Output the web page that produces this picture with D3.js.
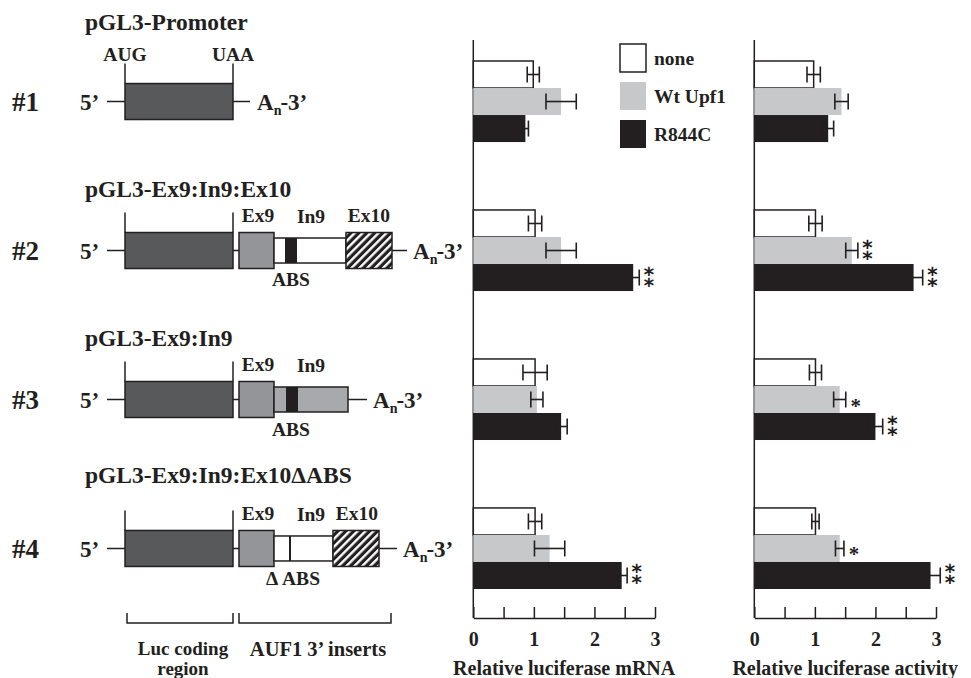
<!DOCTYPE html>
<html>
<head>
<meta charset="utf-8">
<script src="https://cdn.jsdelivr.net/npm/d3@7"></script>
<style>
  body { margin: 0; background: #fff; }
  svg text { font-family: "Liberation Serif", "Times New Roman", serif; font-weight: bold; fill: #231f20; }
</style>
</head>
<body>
<svg id="fig" width="971" height="678"></svg>
<script>
// rows (constructs) and treatment series
var rows = ["#1", "#2", "#3", "#4"];
var titles = ["pGL3-Promoter", "pGL3-Ex9:In9:Ex10", "pGL3-Ex9:In9", "pGL3-Ex9:In9:Ex10\u0394ABS"];
var series = ["none", "Wt Upf1", "R844C"];
var tickVals = [0, 0.5, 1, 1.5, 2, 2.5, 3];

// relative luciferase mRNA, one array per series (rows #1..#4)
var mrnaNone = [0.99, 1.02, 1.02, 1.02];
var mrnaWt = [1.45, 1.45, 1.05, 1.26];
var mrnaR844C = [0.86, 2.64, 1.45, 2.45];
var mrnaNoneErr = [0.1, 0.11, 0.2, 0.11];
var mrnaWtErr = [0.25, 0.25, 0.1, 0.25];
var mrnaR844CErr = [0.05, 0.1, 0.1, 0.09];
var mrnaStars = [[0, 0, 0], [0, 0, 2], [0, 0, 0], [0, 0, 2]];

// relative luciferase activity
var actNone = [0.98, 1.01, 1.01, 1.01];
var actWt = [1.44, 1.61, 1.41, 1.41];
var actR844C = [1.22, 2.63, 2.0, 2.91];
var actNoneErr = [0.11, 0.11, 0.1, 0.06];
var actWtErr = [0.11, 0.1, 0.1, 0.07];
var actR844CErr = [0.09, 0.15, 0.12, 0.16];
var actStars = [[0, 0, 0], [0, 2, 2], [0, 1, 2], [0, 1, 2]];

var ink = "#231f20";
var fills = { "none": "#ffffff", "Wt Upf1": "#c7c8ca", "R844C": "#231f20" };

var svg = d3.select("#fig");

var defs = svg.append("defs");
var pat = defs.append("pattern")
    .attr("id", "hatch")
    .attr("patternUnits", "userSpaceOnUse")
    .attr("width", 5.6).attr("height", 5.6)
    .attr("patternTransform", "rotate(45)");
pat.append("rect").attr("width", 5.6).attr("height", 5.6).attr("fill", ink);
pat.append("line").attr("x1", 1.2).attr("x2", 1.2).attr("y1", 0).attr("y2", 5.6)
    .attr("stroke", "#fff").attr("stroke-width", 2.4);

// shared row scale, used by both the diagrams and the bar groups
var y = d3.scaleBand().domain(rows).range([61, 589]).paddingInner(0.456).paddingOuter(0);
var ySub = d3.scaleBand().domain(series).range([0, y.bandwidth()]);

function center(r) { return y(r) + y.bandwidth() / 2; }

// ---------- left: construct diagrams ----------
var dg = svg.append("g");

function box(g, x0, x1, c, h, fill) {
    g.append("rect").attr("x", x0).attr("y", c - h / 2).attr("width", x1 - x0).attr("height", h)
        .attr("fill", fill).attr("stroke", ink).attr("stroke-width", 1.5);
}
function label(g, txt, x, yy, size, anchor) {
    return g.append("text").attr("x", x).attr("y", yy).attr("font-size", size)
        .attr("text-anchor", anchor || "middle").attr("dy", "0.35em").text(txt);
}
function polyA(g, x, c) {
    var t = g.append("text").attr("x", x).attr("y", c).attr("dy", "0.35em").attr("font-size", 23);
    t.append("tspan").text("A");
    t.append("tspan").attr("font-size", 14).attr("dy", 5).text("n");
    t.append("tspan").attr("dy", -5).attr("dx", -1).text("-3\u2019");
}

rows.forEach(function(r, i) {
    var c = center(r);
    var g = dg.append("g");
    var tailEnd = [250, 407, 367, 397][i];
    label(g, r, 12, c, 27, "start");
    label(g, titles[i], 85, c - [80, 62, 62, 74][i], 23.5, "start");
    label(g, "5\u2019", 80, c, 23, "start");
    g.append("line").attr("x1", 107).attr("x2", tailEnd).attr("y1", c).attr("y2", c)
        .attr("stroke", ink).attr("stroke-width", 1.5);
    // AUG / UAA marks
    [125, 233].forEach(function(x) {
        g.append("line").attr("x1", x).attr("x2", x).attr("y1", c - 38).attr("y2", c - 18)
            .attr("stroke", ink).attr("stroke-width", 1.5);
    });
    box(g, 125, 233, c, 36, "#58595b");
    if (i === 0) {
        label(g, "AUG", 125, c - 47, 19.5);
        label(g, "UAA", 233, c - 47, 19.5);
        polyA(g, 257, c);
        return;
    }
    box(g, 239, 274, c, 36, "#939598");
    label(g, "Ex9", 258, c - 35, 19.5);
    label(g, "In9", 311, c - 34, 19.5);
    if (i === 1) {
        box(g, 274, 346, c, 25, "#fff");
        g.append("rect").attr("x", 285).attr("y", c - 12.5).attr("width", 12).attr("height", 25).attr("fill", ink);
        box(g, 346, 392, c, 36, "url(#hatch)");
        label(g, "Ex10", 369, c - 35, 19.5);
        label(g, "ABS", 291, c + 29, 19.5);
        polyA(g, 413, c);
    } else if (i === 2) {
        box(g, 274, 348, c, 25, "#a7a9ac");
        g.append("rect").attr("x", 286).attr("y", c - 12.5).attr("width", 12).attr("height", 25).attr("fill", ink);
        label(g, "ABS", 291, c + 30, 19.5);
        polyA(g, 373, c);
    } else {
        box(g, 274, 333, c, 25, "#fff");
        g.append("line").attr("x1", 290).attr("x2", 290).attr("y1", c - 12.5).attr("y2", c + 12.5)
            .attr("stroke", ink).attr("stroke-width", 2);
        box(g, 333, 379, c, 36, "url(#hatch)");
        label(g, "Ex10", 357, c - 35, 19.5);
        label(g, "\u0394 ABS", 293, c + 30, 19.5);
        polyA(g, 403, c);
    }
});

// brackets under the diagrams
[[127, 233, "Luc coding"], [239, 391, "AUF1 3\u2019 inserts"]].forEach(function(b) {
    dg.append("path")
        .attr("d", "M" + b[0] + ",613V623H" + b[1] + "V613")
        .attr("fill", "none").attr("stroke", ink).attr("stroke-width", 1.5);
    label(dg, b[2], b[0] === 127 ? 183 : 318, 648.5, b[0] === 127 ? 19 : 20.5);
});
label(dg, "region", 183, 668.5, 19);

// ---------- right: two bar panels ----------
function panel(x0, vals, errs, stars, title) {
    var x = d3.scaleLinear().domain([0, 3]).range([x0, x0 + 181.7]);
    var g = svg.append("g");
    var axisY = 618;

    g.append("line").attr("x1", x(0)).attr("x2", x(0)).attr("y1", 40).attr("y2", axisY)
        .attr("stroke", ink).attr("stroke-width", 1.5);

    var data = [];
    rows.forEach(function(r, i) {
        series.forEach(function(s, j) {
            data.push({ row: r, s: s, v: vals[j][i], e: errs[j][i], star: stars[i][j] });
        });
    });

    g.selectAll("rect.bar").data(data).enter().append("rect")
        .attr("class", "bar")
        .attr("x", x(0))
        .attr("y", function(d) { return y(d.row) + ySub(d.s); })
        .attr("width", function(d) { return x(d.v) - x(0); })
        .attr("height", ySub.bandwidth())
        .attr("fill", function(d) { return fills[d.s]; })
        .attr("stroke", function(d) { return d.s === "none" ? ink : "none"; })
        .attr("stroke-width", 1.5);

    var eb = g.selectAll("g.err").data(data).enter().append("g").attr("class", "err")
        .attr("stroke", ink).attr("stroke-width", 1.6);
    eb.append("line")
        .attr("x1", function(d) { return x(d.v - d.e); })
        .attr("x2", function(d) { return x(d.v + d.e); })
        .attr("y1", function(d) { return y(d.row) + ySub(d.s) + ySub.bandwidth() / 2; })
        .attr("y2", function(d) { return y(d.row) + ySub(d.s) + ySub.bandwidth() / 2; });
    [-1, 1].forEach(function(k) {
        eb.append("line")
            .attr("x1", function(d) { return x(d.v + k * d.e); })
            .attr("x2", function(d) { return x(d.v + k * d.e); })
            .attr("y1", function(d) { return y(d.row) + ySub(d.s) + ySub.bandwidth() / 2 - 8; })
            .attr("y2", function(d) { return y(d.row) + ySub(d.s) + ySub.bandwidth() / 2 + 8; });
    });

    // significance marks: single asterisk or two stacked asterisks (one glyph)
    data.filter(function(d) { return d.star > 0; }).forEach(function(d) {
        var cy = y(d.row) + ySub(d.s) + ySub.bandwidth() / 2;
        g.append("text").attr("x", x(d.v + d.e) + 10).attr("y", cy)
            .attr("text-anchor", "middle").attr("dy", d.star === 2 ? "0.36em" : "0.62em")
            .attr("font-size", d.star === 2 ? 25 : 21).attr("font-weight", "normal")
            .style("font-family", d.star === 2 ? "'DejaVu Sans', sans-serif" : "'Liberation Serif', serif")
            .text(d.star === 2 ? "\u2051" : "*");
    });

    var ax = g.append("g").attr("transform", "translate(0," + axisY + ")")
        .call(d3.axisBottom(x).tickValues(tickVals).tickSizeInner(-11).tickSizeOuter(0).tickPadding(14)
            .tickFormat(function(d) { return Number.isInteger(d) ? d : ""; }));
    ax.selectAll("path, line").attr("stroke", ink).attr("stroke-width", 1.5);
    ax.selectAll("text").attr("font-size", 20).attr("fill", ink)
        .style("font-family", "'Liberation Serif', serif").style("font-weight", "bold");

    label(g, title, (x(0) + x(3)) / 2, 668, 20);
    return x;
}

panel(473.3, [mrnaNone, mrnaWt, mrnaR844C], [mrnaNoneErr, mrnaWtErr, mrnaR844CErr], mrnaStars,
    "Relative luciferase mRNA");
panel(754.3, [actNone, actWt, actR844C], [actNoneErr, actWtErr, actR844CErr], actStars,
    "Relative luciferase activity");

// legend
var lg = svg.append("g");
series.forEach(function(s, j) {
    var cy = 58 + j * 38;
    lg.append("rect").attr("x", 620).attr("y", cy - 14).attr("width", 26).attr("height", 28)
        .attr("fill", fills[s]).attr("stroke", s === "none" ? ink : "none").attr("stroke-width", 1.5);
    label(lg, s, 654, cy, 19.5, "start");
});
</script>
</body>
</html>
